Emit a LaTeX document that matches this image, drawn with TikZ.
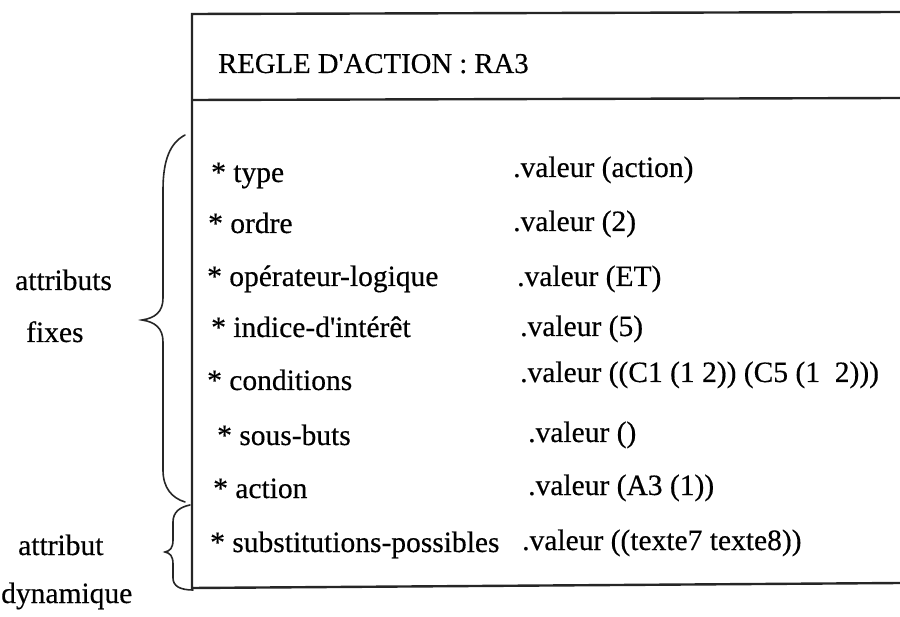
\documentclass[tikz,border=0pt]{standalone}
\usepackage{fontspec}
\setmainfont[FakeBold=0.4]{Liberation Serif}
\begin{document}
\begin{tikzpicture}[x=1pt,y=-1pt,
  txt/.style={anchor=base west,inner sep=0pt,font=\fontsize{29.5}{32}\selectfont},
  boxline/.style={line width=2.4pt,black!85},
  bracel/.style={line width=1.6pt,black!85,line cap=round}]
\useasboundingbox (0,0) rectangle (900,617);
% box
\coordinate (tl) at (192,14);
\coordinate (tr) at (900,12);
\coordinate (sl) at (192,100);
\coordinate (sr) at (900,98);
\coordinate (bl) at (192,588);
\coordinate (br) at (900,583);
\draw[boxline] (tr) -- (tl) -- (bl) -- (br);
\draw[boxline] (sl) -- (sr);
% header
\node[txt,font=\fontsize{28.7}{32}\selectfont] (head) at (218,73) {REGLE D\textquotesingle ACTION : RA3};
% attribute names
\node[txt] (a1) at (211,182) {* type};
\node[txt] (a2) at (208,233) {* ordre};
\node[txt] (a3) at (207,286) {* opérateur-logique};
\node[txt] (a4) at (211,337) {* indice-d\textquotesingle intérêt};
\node[txt] (a5) at (207,390) {* conditions};
\node[txt] (a6) at (217,445) {* sous-buts};
\node[txt] (a7) at (213,498) {* action};
\node[txt] (a8) at (210,552) {* substitutions-possibles};
% values
\node[txt] (v1) at (513,177) {.valeur (action)};
\node[txt] (v2) at (513,231) {.valeur (2)};
\node[txt] (v3) at (517,286) {.valeur (ET)};
\node[txt] (v4) at (520,336) {.valeur (5)};
\node[txt] (v5) at (520,382) {.valeur ((C1 (1 2)) (C5 (1\ \ 2)))};
\node[txt] (v6) at (528,442) {.valeur ()};
\node[txt] (v7) at (528,495) {.valeur (A3 (1))};
\node[txt] (v8) at (522,550) {.valeur ((texte7 texte8))};
% left labels
\node[txt] (l1) at (15,290) {attributs};
\node[txt] (l2) at (26,342) {fixes};
\node[txt] (l3) at (18,555) {attribut};
\node[txt] (l4) at (1,603) {dynamique};
% braces
\draw[bracel] (185,135) .. controls (170,143) and (163,160) .. (163,190)
  -- (163,298) .. controls (163,312) and (155,318) .. (142,320)
  .. controls (155,322) and (163,328) .. (163,342)
  -- (163,470) .. controls (163,488) and (172,498) .. (185,502);
\draw[bracel] (190,505) .. controls (180,507) and (173,512) .. (173,522)
  -- (173,540) .. controls (173,548) and (170,551) .. (165,552)
  .. controls (170,553) and (173,556) .. (173,564)
  -- (173,578) .. controls (173,586) and (180,590) .. (193,590);
\end{tikzpicture}
\end{document}
